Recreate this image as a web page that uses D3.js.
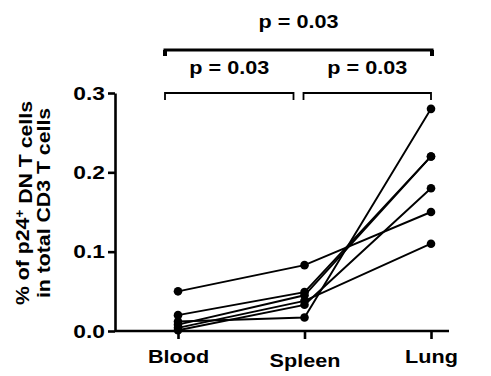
<!DOCTYPE html>
<html>
<head>
<meta charset="utf-8">
<script src="https://cdn.jsdelivr.net/npm/d3@7"></script>
<style>
body { margin: 0; background: #fff; }
text { font-family: "Liberation Sans", Arial, sans-serif; font-weight: bold; fill: #000; }
</style>
</head>
<body>
<div id="chart"></div>
<script>
// data (one entry per animal)
var organs = ["Blood", "Spleen", "Lung"];
var blood  = [0.050, 0.020, 0.008, 0.004, 0.012, 0.001];
var spleen = [0.083, 0.049, 0.045, 0.038, 0.017, 0.033];
var lung   = [0.150, 0.220, 0.220, 0.110, 0.280, 0.180];
var yTicks = [0, 0.1, 0.2, 0.3];
var comparisons = [["Blood", "Spleen"], ["Spleen", "Lung"], ["Blood", "Lung"]];
var pLabels = ["p = 0.03", "p = 0.03", "p = 0.03"];

var width = 491, height = 376;
var sx = 1.2; // the figure's text is a bit wide

var svg = d3.select("#chart").append("svg")
    .attr("width", width)
    .attr("height", height);

var x = d3.scalePoint().domain(organs).range([178, 431]);
var y = d3.scaleLinear().domain([0, 0.3]).range([331, 93]);

// y axis
var yAxis = svg.append("g")
    .attr("transform", "translate(115,0)")
    .call(d3.axisLeft(y).tickValues(yTicks).tickFormat(d3.format(".1f"))
        .tickSize(7).tickSizeOuter(0).tickPadding(2));
yAxis.selectAll("path, line").attr("stroke", "#000").attr("stroke-width", 2.6);
yAxis.selectAll("text")
    .style("font-size", "19px")
    .attr("x", -10 / sx)
    .attr("transform", "scale(" + sx + ",1)");

// x axis
var xAxis = svg.append("g")
    .attr("transform", "translate(0," + y(0) + ")")
    .call(d3.axisBottom(x).tickSize(8).tickSizeOuter(0).tickPadding(11));
xAxis.select(".domain").remove();
xAxis.append("line")
    .attr("x1", 115).attr("x2", 449)
    .attr("stroke", "#000").attr("stroke-width", 2.6);
xAxis.selectAll("line").attr("stroke", "#000").attr("stroke-width", 2.6);
xAxis.selectAll(".tick text")
    .style("font-size", "18px")
    .attr("transform", "scale(" + sx + ",1)")
    .attr("y", function(d) { return d == "Spleen" ? 23 : 19; });

// y label
var ylab = svg.append("text")
    .attr("transform", "translate(29,203) rotate(-90) scale(1.12,1)")
    .attr("text-anchor", "middle")
    .style("font-size", "19px");
ylab.append("tspan").text("% of p24");
ylab.append("tspan").attr("dy", "-0.45em").style("font-size", "12px").text("+");
ylab.append("tspan").attr("dy", "0.45em").text(" DN T cells");

svg.append("text")
    .attr("transform", "translate(50,203) rotate(-90) scale(1.12,1)")
    .attr("text-anchor", "middle")
    .style("font-size", "19px")
    .text("in total CD3 T cells");

// paired lines
var pairs = blood.map(function(b, i) { return [b, spleen[i], lung[i]]; });
var line = d3.line()
    .x(function(d, j) { return x(organs[j]); })
    .y(function(d) { return y(d); });

svg.append("g").selectAll("path")
    .data(pairs)
    .enter()
    .append("path")
    .attr("d", line)
    .attr("fill", "none")
    .attr("stroke", "#000")
    .attr("stroke-width", 1.9);

var dots = [];
pairs.forEach(function(p) {
    p.forEach(function(v, j) { dots.push({organ: organs[j], value: v}); });
});
svg.append("g").selectAll("circle")
    .data(dots)
    .enter()
    .append("circle")
    .attr("cx", function(d) { return x(d.organ); })
    .attr("cy", function(d) { return y(d.value); })
    .attr("r", 4.3)
    .attr("fill", "#000");

// significance brackets
var bracketY = [93, 93, 50];
var bracketX = [[-13, -11], [-1, 0], [-13, 1]];
var bracketW = [1.8, 1.8, 3];
var labelY = [74, 74, 28];

comparisons.forEach(function(c, i) {
    var x1 = x(c[0]) + bracketX[i][0], x2 = x(c[1]) + bracketX[i][1];
    var by = bracketY[i];
    var drop = i == 2 ? 6 : 7;
    svg.append("path")
        .attr("d", "M" + x1 + "," + (by + drop) + "V" + by + "H" + x2 + "V" + (by + drop))
        .attr("fill", "none")
        .attr("stroke", "#000")
        .attr("stroke-width", bracketW[i]);
    if (i == 2) {
        [x1, x2].forEach(function(xx) {
            svg.append("rect")
                .attr("x", xx - 2).attr("y", by)
                .attr("width", 4).attr("height", drop)
                .attr("fill", "#000");
        });
    }
    svg.append("text")
        .attr("transform", "translate(" + ((x1 + x2) / 2) + "," + labelY[i] + ") scale(" + sx + ",1)")
        .attr("text-anchor", "middle")
        .style("font-size", "18px")
        .text(pLabels[i]);
});
</script>
</body>
</html>
